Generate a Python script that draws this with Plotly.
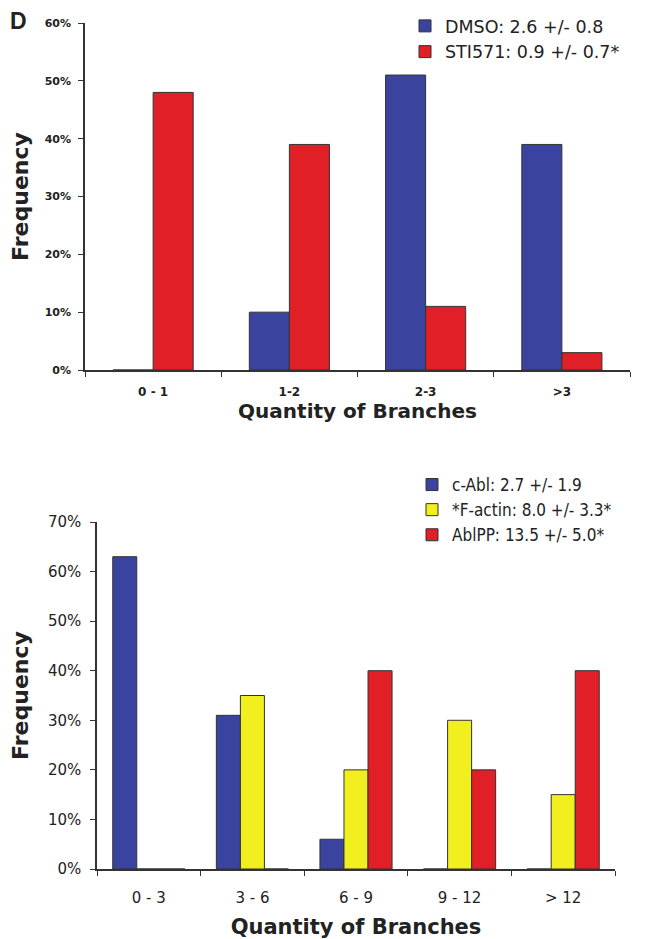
import plotly.graph_objects as go

# ---- data: top panel ----
cats_top = ["0 - 1", "1-2", "2-3", ">3"]
dmso = [0.00, 0.10, 0.51, 0.39]
sti571 = [0.48, 0.39, 0.11, 0.03]
names_top = ["DMSO: 2.6 +/- 0.8", "STI571: 0.9 +/- 0.7*"]

# ---- data: bottom panel ----
cats_bot = ["0 - 3", "3 - 6", "6 - 9", "9 - 12", "> 12"]
cabl = [0.63, 0.31, 0.06, 0.00, 0.00]
factin = [0.00, 0.35, 0.20, 0.30, 0.15]
ablpp = [0.00, 0.00, 0.40, 0.20, 0.40]
names_bot = ["c-Abl: 2.7 +/- 1.9", "*F-actin: 8.0 +/- 3.3*", "AblPP: 13.5 +/- 5.0*"]

BLUE = "#3a449e"
RED = "#e01f26"
YEL = "#f2ef1f"
EDGE = "#333333"
W, H = 649, 939
OFF = 8  # page body offset

fig = go.Figure()

wt = 0.294
fig.add_trace(go.Bar(x=cats_top, y=dmso, name=names_top[0], marker=dict(color=BLUE, line=dict(color=EDGE, width=1)),
                     width=wt, offset=-wt, xaxis="x", yaxis="y", legend="legend", legendgroup="a"))
fig.add_trace(go.Bar(x=cats_top, y=sti571, name=names_top[1], marker=dict(color=RED, line=dict(color=EDGE, width=1)),
                     width=wt, offset=0, xaxis="x", yaxis="y", legend="legend", legendgroup="b"))

wb = 0.232
for vals, nm, col, off, g in [(cabl, names_bot[0], BLUE, -1.5 * wb, "c"),
                              (factin, names_bot[1], YEL, -0.5 * wb, "d"),
                              (ablpp, names_bot[2], RED, 0.5 * wb, "e")]:
    fig.add_trace(go.Bar(x=cats_bot, y=vals, name=nm, marker=dict(color=col, line=dict(color=EDGE, width=1)),
                         width=wb, offset=off, xaxis="x2", yaxis="y2", legend="legend2", legendgroup=g))

def px_x(p):
    return (p - OFF) / W

def px_y(p):
    return 1 - (p - OFF) / H

axis_common = dict(showline=True, linecolor=EDGE, linewidth=1.5, ticks="outside", ticklen=5,
                   tickcolor=EDGE, showgrid=False, zeroline=False, fixedrange=True, automargin=False)

fig.update_layout(
    width=W, height=H,
    margin=dict(l=0, r=0, t=0, b=0),
    paper_bgcolor="white", plot_bgcolor="white",
    barmode="group",
    xaxis=dict(domain=[px_x(85), px_x(630)], anchor="y", tickson="boundaries", ticklabelstandoff=10,
               tickfont=dict(family="DejaVu Sans", size=12, color="#222", weight="bold"),
               title=dict(text="Quantity of Branches", font=dict(family="DejaVu Sans", size=20, color="#222", weight="bold"), standoff=6),
               **axis_common),
    yaxis=dict(domain=[px_y(370), px_y(23)], anchor="x", range=[0, 0.6], dtick=0.1, tickformat=".0%",
               ticklabelstandoff=5,
               tickfont=dict(family="DejaVu Sans", size=11, color="#222", weight="bold"),
               title=dict(text="Frequency", font=dict(family="DejaVu Sans", size=22, color="#222", weight="bold"), standoff=10),
               **axis_common),
    xaxis2=dict(domain=[px_x(97), px_x(615)], anchor="y2", tickson="boundaries", ticklabelstandoff=14,
                tickfont=dict(family="DejaVu Sans", size=15, color="#222"),
                title=dict(text="Quantity of Branches", font=dict(family="DejaVu Sans", size=21, color="#222", weight="bold"), standoff=14),
                **axis_common),
    yaxis2=dict(domain=[px_y(869), px_y(522)], anchor="x2", range=[0, 0.7], dtick=0.1, tickformat=".0%",
                ticklabelstandoff=6,
                tickfont=dict(family="DejaVu Sans", size=15, color="#222"),
                title=dict(text="Frequency", font=dict(family="DejaVu Sans", size=22, color="#222", weight="bold"), standoff=14),
                **axis_common),
    legend=dict(x=px_x(405), y=1, xanchor="left", yanchor="top", bgcolor="rgba(0,0,0,0)",
                font=dict(family="DejaVu Sans", size=17.5, color="#222"),
                tracegroupgap=0),
    legend2=dict(x=px_x(412), y=px_y(467), xanchor="left", yanchor="top", bgcolor="rgba(0,0,0,0)",
                 font=dict(family="Liberation Sans Narrow, DejaVu Sans Condensed", size=17, color="#222"),
                 tracegroupgap=0),
    annotations=[dict(text="<b>D</b>", x=px_x(8), y=px_y(21), xref="paper", yref="paper", xanchor="left",
                      yanchor="middle", showarrow=False, font=dict(family="Liberation Sans", size=23, color="#222"))],
    showlegend=True,
)

fig.write_html("out.html")
